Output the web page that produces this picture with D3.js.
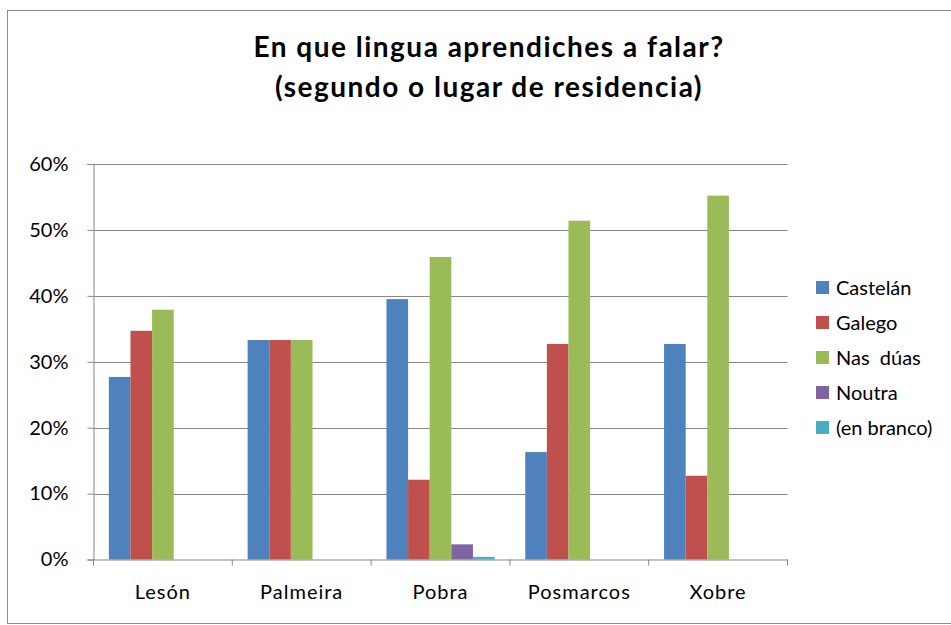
<!DOCTYPE html>
<html>
<head>
<meta charset="utf-8">
<script src="https://cdn.jsdelivr.net/npm/d3@7"></script>
<style>
  html, body { margin: 0; padding: 0; background: #fff; }
  svg { display: block; }
  text { font-family: Lato, "Liberation Sans", Arial, sans-serif; fill: #000; }
</style>
</head>
<body>
<svg id="chart" width="951" height="625"></svg>
<script>
const categories = ["Lesón", "Palmeira", "Pobra", "Posmarcos", "Xobre"];
const seriesNames = ["Castelán", "Galego", "Nas  dúas", "Noutra", "(en branco)"];
const castelan = [27.7, 33.3, 39.5, 16.3, 32.7];
const galego   = [34.7, 33.3, 12.1, 32.7, 12.7];
const nasDuas  = [37.9, 33.3, 45.9, 51.4, 55.2];
const noutra   = [0, 0, 2.3, 0, 0];
const enBranco = [0, 0, 0.4, 0, 0];
const yTicks = [0, 10, 20, 30, 40, 50, 60];
const titleLines = ["En que lingua aprendiches a falar?", "(segundo o lugar de residencia)"];

const seriesValues = [castelan, galego, nasDuas, noutra, enBranco];
const colors = ["#4F81BD", "#C0504D", "#9BBB59", "#8064A2", "#4BACC6"];
const FONT = "Lato, Liberation Sans, Arial, sans-serif";

const svg = d3.select("#chart");

// chart border
svg.append("rect")
  .attr("x", 7.5).attr("y", 10.5)
  .attr("width", 960).attr("height", 613)
  .attr("fill", "none").attr("stroke", "#8c8c8c").attr("stroke-width", 1);

const plot = { left: 93.5, right: 787.5, top: 164, bottom: 559.5 };

const x0 = d3.scaleBand().domain(categories).range([plot.left, plot.right]).padding(0);
const x1 = d3.scaleBand().domain(d3.range(seriesNames.length))
  .range([0, x0.bandwidth()]).paddingInner(0).paddingOuter(0.71);
const y = d3.scaleLinear().domain([0, 60]).range([plot.bottom, plot.top]);

// gridlines
svg.append("g").selectAll("line").data(yTicks.filter(d => d > 0)).join("line")
  .attr("x1", plot.left).attr("x2", plot.right)
  .attr("y1", d => Math.round(y(d)) + 0.5).attr("y2", d => Math.round(y(d)) + 0.5)
  .attr("stroke", "#878787").attr("stroke-width", 1);

// bars
const groups = svg.append("g").selectAll("g").data(categories).join("g")
  .attr("transform", c => `translate(${x0(c)},0)`);
groups.selectAll("rect")
  .data((c, ci) => seriesValues.map((vals, si) => ({ si, v: vals[ci] })))
  .join("rect")
  .attr("x", d => x1(d.si))
  .attr("width", x1.bandwidth())
  .attr("y", d => y(d.v))
  .attr("height", d => y(0) - y(d.v))
  .attr("fill", d => colors[d.si]);

// y axis
const yAxis = d3.axisLeft(y).tickValues(yTicks).tickFormat(d => d + "%").tickSize(6).tickPadding(19);
const gy = svg.append("g").attr("transform", `translate(${plot.left},0)`).call(yAxis);
gy.select(".domain").attr("stroke", "#878787");
gy.selectAll(".tick line").attr("stroke", "#878787");
gy.selectAll(".tick text").attr("font-size", 20).attr("font-family", FONT).attr("fill", "#000");

// x axis
const xAxis = d3.axisBottom(x0).tickSize(0).tickPadding(25);
const gx = svg.append("g").attr("transform", `translate(0,${plot.bottom})`).call(xAxis);
gx.select(".domain").attr("stroke", "#878787");
gx.selectAll(".tick text").attr("font-size", 20).attr("font-family", FONT).attr("fill", "#000")
  .attr("letter-spacing", 1);
// category boundary ticks
const bounds = categories.map(c => x0(c)).concat([plot.right]);
svg.append("g").selectAll("line").data(bounds).join("line")
  .attr("x1", d => d).attr("x2", d => d)
  .attr("y1", plot.bottom).attr("y2", plot.bottom + 6)
  .attr("stroke", "#878787");

// title
svg.append("g").selectAll("text").data(titleLines).join("text")
  .attr("x", 489).attr("y", (d, i) => 57 + i * 40)
  .attr("text-anchor", "middle")
  .attr("font-size", 28).attr("font-weight", "bold")
  .attr("letter-spacing", 1.5)
  .text(d => d);

// legend
const lg = svg.append("g").selectAll("g").data(seriesNames).join("g")
  .attr("transform", (d, i) => `translate(816,${288 + i * 35})`);
lg.append("rect").attr("x", 0).attr("y", -7).attr("width", 13).attr("height", 13)
  .attr("fill", (d, i) => colors[i]);
lg.append("text").attr("x", 20).attr("y", 7).attr("font-size", 20)
  .attr("xml:space", "preserve").style("white-space", "pre")
  .text(d => d);
</script>
</body>
</html>
